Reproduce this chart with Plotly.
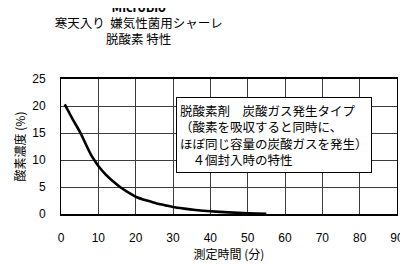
import plotly.graph_objects as go

# data
time_min = [1, 2, 3, 4, 5, 6, 7, 8, 9, 10, 12, 14, 16, 18, 20, 22, 24, 26, 28, 30, 33, 36, 40, 45, 50, 55]
oxygen_pct = [20.3, 19.0, 17.7, 16.5, 15.3, 13.9, 12.4, 11.0, 9.9, 8.9, 7.3, 6.0, 4.9, 4.0, 3.2, 2.7, 2.3,
              1.9, 1.6, 1.3, 1.0, 0.75, 0.5, 0.3, 0.15, 0.05]
x_range = [0, 90]
y_range = [0, 25]
x_step = 10
y_step = 5

title_main = "MicroBio"
title_sub1 = "寒天入り  嫌気性菌用シャーレ"
title_sub2 = "脱酸素 特性"
x_title = "測定時間 (分)"
y_title = "酸素濃度 (%)"
box_lines = ["脱酸素剤　炭酸ガス発生タイプ",
             "（酸素を吸収すると同時に、",
             "ほぼ同じ容量の炭酸ガスを発生）",
             "　４個封入時の特性"]

JP = "Noto Sans CJK JP"
SANS = "Liberation Sans"

fig = go.Figure()
fig.add_trace(go.Scatter(x=time_min, y=oxygen_pct, mode="lines",
                         line=dict(color="black", width=2.6, shape="spline", smoothing=0.6),
                         showlegend=False))

# page body has an 8px margin: plot area on screen spans x 56..402, y 79..214
fig.update_layout(width=408, height=264, margin=dict(l=48, r=14, t=71, b=58),
                  paper_bgcolor="white", plot_bgcolor="white",
                  font=dict(family=SANS, size=12, color="black"),
                  title=dict(text="<b>" + title_main + "</b><br>" + title_sub1 + "<br>" + title_sub2,
                             x=(136 - 56) / 346, xref="paper", xanchor="center",
                             y=0.985, yref="container", yanchor="top",
                             font=dict(family=JP, size=12.5, color="black")),
                  xaxis=dict(range=x_range, dtick=x_step, showgrid=True, gridcolor="#3c3c3c", gridwidth=1,
                             showline=True, linecolor="black", linewidth=1.5, mirror=True,
                             zerolinecolor="black", ticklabelstandoff=12,
                             title=dict(text=x_title, standoff=6, font=dict(family=JP, size=12))),
                  yaxis=dict(range=y_range, dtick=y_step, showgrid=True, gridcolor="#3c3c3c", gridwidth=1,
                             showline=True, linecolor="black", linewidth=1, mirror=True,
                             zerolinecolor="black", ticklabelstandoff=12,
                             title=dict(text=y_title, standoff=4, font=dict(family=JP, size=12))))

fig.add_annotation(x=(174 - 56) / 346, y=(214 - 97) / 135, xref="paper", yref="paper",
                   showarrow=False, xanchor="left", yanchor="top",
                   text="<br>".join(box_lines), align="left",
                   font=dict(family=JP, size=12.5, color="black"),
                   bgcolor="white", bordercolor="black", borderwidth=1, borderpad=3)

fig.write_html("out.html")
